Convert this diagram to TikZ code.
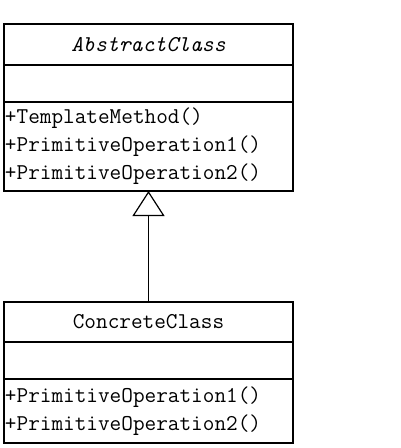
\documentclass[tikz,border=0pt]{standalone}
\usepackage{fontspec}
\usetikzlibrary{positioning,arrows.meta}
\begin{document}
\begin{tikzpicture}
  [x=1pt,y=1pt,every node/.style={draw,line width=1.5pt,minimum width=289pt,inner sep=0pt,outer sep=0pt,font=\ttfamily\fontsize{22.6}{28}\selectfont},
   ops/.style={align=left,text width=287pt,inner xsep=1pt}]
  \useasboundingbox (0,0) rectangle (400,-448);

  \node[minimum height=41pt] (absname) at (148.5,-44.5) {\itshape AbstractClass};
  \node[minimum height=37pt,below=0pt of absname] (absattr) {};
  \node[ops,minimum height=89pt,below=0pt of absattr] (absops) {+TemplateMethod()\\+PrimitiveOperation1()\\+PrimitiveOperation2()};

  \node[minimum height=40pt] (conname) at (148.5,-322) {ConcreteClass};
  \node[minimum height=37pt,below=0pt of conname] (conattr) {};
  \node[ops,minimum height=64pt,below=0pt of conattr] (conops) {+PrimitiveOperation1()\\+PrimitiveOperation2()};

  \draw[-{Triangle[open,length=25pt,width=32pt]},line width=1.2pt] (conname) -- (absops);

\end{tikzpicture}
\end{document}
